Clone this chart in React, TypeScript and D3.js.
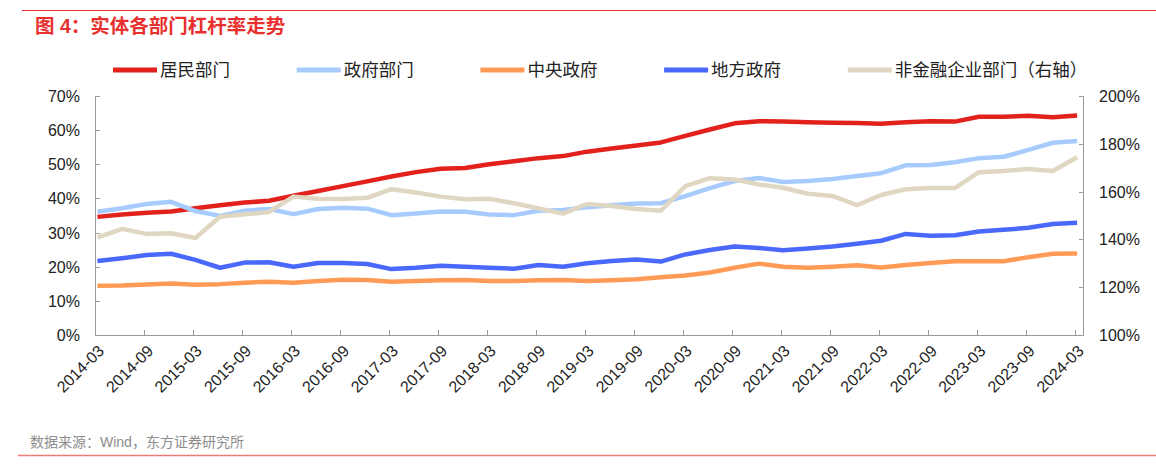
import React from "react";
import * as d3 from "d3";

// quarterly observations, 2014-03 .. 2024-03
const quarters = [
  "2014-03", "2014-06", "2014-09", "2014-12", "2015-03", "2015-06", "2015-09", "2015-12",
  "2016-03", "2016-06", "2016-09", "2016-12", "2017-03", "2017-06", "2017-09", "2017-12",
  "2018-03", "2018-06", "2018-09", "2018-12", "2019-03", "2019-06", "2019-09", "2019-12",
  "2020-03", "2020-06", "2020-09", "2020-12", "2021-03", "2021-06", "2021-09", "2021-12",
  "2022-03", "2022-06", "2022-09", "2022-12", "2023-03", "2023-06", "2023-09", "2023-12",
  "2024-03",
];

// left axis (%)
const household = [
  34.6, 35.3, 35.8, 36.2, 37.1, 38.0, 38.8, 39.3, 40.8, 42.2, 43.6, 45.0, 46.4, 47.7, 48.7, 48.9,
  50.0, 50.9, 51.8, 52.4, 53.7, 54.6, 55.5, 56.4, 58.3, 60.2, 62.0, 62.6, 62.5, 62.3, 62.2, 62.1,
  61.9, 62.3, 62.6, 62.5, 63.9, 63.9, 64.2, 63.8, 64.3,
];
const government = [
  36.1, 37.1, 38.4, 39.0, 36.3, 34.9, 36.4, 36.9, 35.4, 36.9, 37.3, 37.0, 35.1, 35.6, 36.2, 36.1,
  35.3, 35.1, 36.4, 36.6, 37.4, 38.0, 38.5, 38.6, 40.7, 43.0, 45.1, 46.0, 44.8, 45.1, 45.7, 46.6,
  47.4, 49.7, 49.8, 50.6, 51.8, 52.2, 54.2, 56.3, 56.8,
];
const central = [
  14.4, 14.5, 14.8, 15.1, 14.7, 14.9, 15.3, 15.6, 15.3, 15.8, 16.2, 16.1, 15.6, 15.8, 16.0, 16.1,
  15.8, 15.8, 16.0, 16.1, 15.8, 16.0, 16.3, 16.9, 17.4, 18.3, 19.7, 20.9, 20.0, 19.7, 20.0, 20.4,
  19.8, 20.5, 21.1, 21.6, 21.6, 21.6, 22.8, 23.8, 23.9,
];
const local = [
  21.7, 22.5, 23.4, 23.8, 22.0, 19.7, 21.2, 21.3, 20.0, 21.1, 21.1, 20.8, 19.3, 19.7, 20.3, 20.0,
  19.7, 19.4, 20.5, 20.0, 21.0, 21.7, 22.1, 21.5, 23.6, 24.9, 25.9, 25.5, 24.8, 25.3, 25.9, 26.7,
  27.6, 29.6, 29.1, 29.2, 30.3, 30.8, 31.4, 32.5, 32.9,
];
// right axis (%)
const corporate = [
  140.7, 144.4, 142.3, 142.6, 140.6, 149.5, 150.5, 151.5, 157.9, 157.0, 156.9, 157.4, 161.0, 159.6,
  157.9, 156.8, 157.0, 155.1, 153.0, 150.8, 154.8, 154.0, 152.7, 152.0, 162.3, 165.6, 165.1, 163.0,
  161.6, 159.1, 158.2, 154.3, 158.6, 161.0, 161.5, 161.5, 168.1, 168.6, 169.5, 168.6, 174.4,
];

const tickLabels = [
  "2014-03", "2014-09", "2015-03", "2015-09", "2016-03", "2016-09", "2017-03", "2017-09",
  "2018-03", "2018-09", "2019-03", "2019-09", "2020-03", "2020-09", "2021-03", "2021-09",
  "2022-03", "2022-09", "2023-03", "2023-09", "2024-03",
];
const leftTicks = [0, 10, 20, 30, 40, 50, 60, 70];
const rightTicks = [100, 120, 140, 160, 180, 200];

const series = [
  { name: "居民部门", values: household, color: "#e3211c", axis: "left" },
  { name: "政府部门", values: government, color: "#a7cbfc", axis: "left" },
  { name: "中央政府", values: central, color: "#ff9b57", axis: "left" },
  { name: "地方政府", values: local, color: "#4a68fb", axis: "left" },
  { name: "非金融企业部门（右轴）", values: corporate, color: "#e0d7c2", axis: "right" },
];

const FONT = "'Liberation Sans', Arial, 'Noto Sans CJK SC', sans-serif";
const AXIS = "#9a9a9a";

const parse = d3.timeParse("%Y-%m");

export default function App() {
  const W = 1156;
  const H = 470;
  const left = 95;
  const right = 1083;
  const top = 96;
  const bottom = 335;

  // date axis, month slots; points sit a little into their month
  const x = d3
    .scaleTime()
    .domain([parse("2014-03") as Date, parse("2024-04") as Date])
    .range([left, right]);
  const xPoint = (q: string) => x(d3.timeDay.offset(parse(q) as Date, 9));

  const yL = d3.scaleLinear().domain([0, 70]).range([bottom, top]);
  const yR = d3.scaleLinear().domain([100, 200]).range([bottom, top]);

  const legendX = d3.scaleLinear().domain([0, 1]).range([113, 296.7]);

  return (
    <svg
      width={W}
      height={H}
      style={{ position: "absolute", left: 0, top: 0, background: "#fff" }}
      fontFamily={FONT}
    >
      <line x1={22} x2={W} y1={10.5} y2={10.5} stroke="#e8312f" strokeWidth={1} />
      <text x={35} y={33} fontSize={19.5} fontWeight="bold" fill="#e8312f">
        图 4：实体各部门杠杆率走势
      </text>

      {/* legend */}
      {series.map((s, i) => (
        <g key={s.name} transform={`translate(${legendX(i)},70)`}>
          <line x1={0} x2={44} y1={0} y2={0} stroke={s.color} strokeWidth={5} />
          <text x={47} y={6} fontSize={17.5} fill="#222">
            {s.name}
          </text>
        </g>
      ))}

      {/* axes */}
      <g stroke={AXIS} strokeWidth={1} fill="none">
        <line x1={left + 0.5} x2={left + 0.5} y1={top} y2={bottom} />
        <line x1={right + 0.5} x2={right + 0.5} y1={top} y2={bottom} />
        <line x1={left} x2={right + 1} y1={bottom + 0.5} y2={bottom + 0.5} />
        {leftTicks.map((t) => (
          <line key={"l" + t} x1={left} x2={left + 5} y1={Math.round(yL(t)) + 0.5} y2={Math.round(yL(t)) + 0.5} />
        ))}
        {rightTicks.map((t) => (
          <line key={"r" + t} x1={right - 4} x2={right} y1={Math.round(yR(t)) + 0.5} y2={Math.round(yR(t)) + 0.5} />
        ))}
        {tickLabels.map((t) => {
          const tx = Math.round(x(parse(t) as Date)) + 0.5;
          return <line key={"x" + t} x1={tx} x2={tx} y1={bottom} y2={bottom - 5} />;
        })}
      </g>

      {leftTicks.map((t) => (
        <text key={"lt" + t} x={80} y={yL(t) + 6} fontSize={16} textAnchor="end" fill="#222">
          {t}%
        </text>
      ))}
      {rightTicks.map((t) => (
        <text key={"rt" + t} x={1099} y={yR(t) + 6} fontSize={16} textAnchor="start" fill="#222">
          {t}%
        </text>
      ))}
      {tickLabels.map((t) => {
        const tx = x(parse(t) as Date);
        return (
          <text
            key={"xt" + t}
            fontSize={16}
            textAnchor="end"
            fill="#222"
            transform={`translate(${tx + 10},${bottom + 17}) rotate(-45)`}
          >
            {t}
          </text>
        );
      })}

      {/* lines */}
      {series.map((s) => {
        const y = s.axis === "left" ? yL : yR;
        const line = d3
          .line<number>()
          .x((_, i) => xPoint(quarters[i]))
          .y((d) => y(d));
        return (
          <path
            key={s.name}
            d={line(s.values) ?? ""}
            fill="none"
            stroke={s.color}
            strokeWidth={4.5}
            strokeLinejoin="round"
          />
        );
      })}

      <text x={30} y={447} fontSize={14} fill="#8c8c8c">
        数据来源：Wind，东方证券研究所
      </text>
      <line x1={18} x2={W} y1={455.5} y2={455.5} stroke="#f07a74" strokeWidth={1.5} />
    </svg>
  );
}
